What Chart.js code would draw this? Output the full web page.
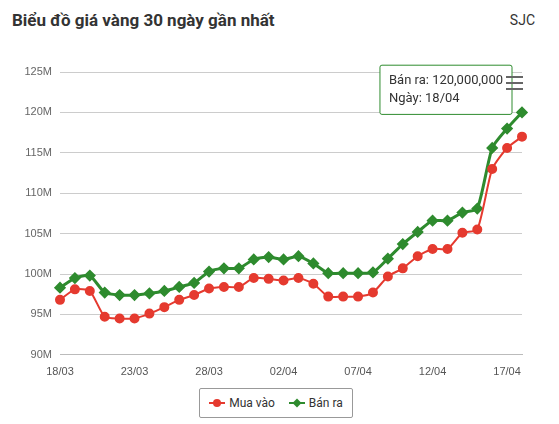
<!DOCTYPE html>
<html><head><meta charset="utf-8">
<script src="https://cdn.jsdelivr.net/npm/chart.js@4/dist/chart.umd.min.js"></script>
<style>
body{margin:0;width:559px;height:424px;background:#fff;font-family:Roboto,"Noto Sans",sans-serif;position:relative;overflow:hidden}
#title{position:absolute;left:12px;top:10px;font-size:17px;font-weight:bold;color:#333}
#sjc{position:absolute;right:24px;top:12px;font-size:14px;color:#333}
#wrap{position:absolute;left:0;top:40px;width:559px;height:342px}
#menu{position:absolute;left:506px;top:76px;width:17px}
#menu div{height:2px;background:#666;margin-bottom:4px}
#legend{position:absolute;left:199px;top:388px;width:152px;height:28px;border:1px solid #999;border-radius:2px;font-size:12px;color:#333;display:flex;align-items:center;justify-content:center;gap:14px}
.it{display:flex;align-items:center;gap:4px}
.ln{width:16px;height:2px;position:relative}
.ln i{position:absolute;left:4px;top:-3px;width:8px;height:8px}
</style></head><body>
<div id="title">Biểu đồ giá vàng 30 ngày gần nhất</div>
<div id="sjc">SJC</div>
<div id="wrap"><canvas id="c"></canvas></div>
<div id="menu"><div></div><div></div><div></div></div>
<div id="legend">
 <div class="it"><span class="ln" style="background:#e53a2f"><i style="background:#e53a2f;border-radius:50%"></i></span>Mua vào</div>
 <div class="it"><span class="ln" style="background:#2e8b2e"><i style="background:#2e8b2e;transform:rotate(45deg) scale(.8)"></i></span>Bán ra</div>
</div>
<script>
const labels = ['18/03','19/03','20/03','21/03','22/03','23/03','24/03','25/03','26/03','27/03','28/03','29/03','30/03','31/03',
  '01/04','02/04','03/04','04/04','05/04','06/04','07/04','08/04','09/04','10/04','11/04','12/04','13/04','14/04','15/04','16/04','17/04','18/04'];
const muaVao = [96.8,98.1,97.9,94.7,94.5,94.5,95.1,95.9,96.8,97.4,98.2,98.4,98.4,99.5,99.4,99.2,99.5,
  98.8,97.2,97.2,97.2,97.7,99.7,100.7,102.2,103.1,103.1,105.1,105.5,113.0,115.6,117.0].map(v => v * 1e6);
const banRa = [98.3,99.5,99.8,97.7,97.4,97.4,97.6,97.9,98.4,98.9,100.3,100.7,100.7,101.8,102.1,101.8,102.2,
  101.3,100.1,100.1,100.1,100.2,101.9,103.7,105.2,106.6,106.6,107.6,108.1,115.6,118.0,120.0].map(v => v * 1e6);
const yTicks = [90,95,100,105,110,115,120,125];

// tooltip sits up-left of the hovered point, like the original
Chart.Tooltip.positioners.upLeft = function (items) {
  if (!items.length) return false;
  const el = items[0].element;
  return { x: el.x - 12, y: el.y + 4 };
};

const chart = new Chart(document.getElementById('c'), {
  type: 'line',
  data: {
    labels,
    datasets: [
      { label: 'Mua vào', data: muaVao, borderColor: '#e53a2f', backgroundColor: '#e53a2f', borderWidth: 2,
        pointRadius: 4, pointHoverRadius: 4, tension: 0.2 },
      { label: 'Bán ra', data: banRa, borderColor: '#2e8b2e', backgroundColor: '#2e8b2e', borderWidth: 3,
        pointStyle: 'rectRot', pointRadius: 4, pointHoverRadius: 5, tension: 0.2 }
    ]
  },
  options: {
    responsive: true, maintainAspectRatio: false, animation: false,
    layout: { padding: { top: 32, right: 37, left: 0 } },
    interaction: { mode: 'nearest', intersect: true },
    plugins: {
      legend: { display: false },
      tooltip: {
        position: 'upLeft',
        backgroundColor: '#fff', borderColor: '#2e8b2e', borderWidth: 1, cornerRadius: 2,
        titleColor: '#333', bodyColor: '#333', displayColors: false, caretSize: 0,
        xAlign: 'right', yAlign: 'bottom', padding: { x: 9, y: 8 },
        titleFont: { size: 12, family: 'Roboto' }, bodyFont: { size: 13, family: 'Roboto' },
        callbacks: {
          title: () => '',
          label: ctx => ['Bán ra: ' + ctx.parsed.y.toLocaleString('en-US'), 'Ngày: ' + ctx.label]
        }
      }
    },
    scales: {
      x: {
        grid: { display: false, drawTicks: true },
        border: { color: '#bbb' },
        ticks: { color: '#555', font: { size: 11 }, maxRotation: 0, autoSkip: false,
          callback: (v, i) => i % 5 === 0 ? labels[i] : '' }
      },
      y: {
        min: 90e6, max: 125e6,
        afterFit: s => { s.width = 60; },
        afterBuildTicks: s => { s.ticks = yTicks.map(v => ({ value: v * 1e6 })); },
        grid: { color: '#ccc', drawTicks: false },
        border: { display: false },
        ticks: { color: '#666', font: { size: 11 }, padding: 8, callback: v => (v / 1e6) + 'M' }
      }
    }
  }
});
const last = labels.length - 1;
const pt = chart.getDatasetMeta(1).data[last];
chart.tooltip.setActiveElements([{ datasetIndex: 1, index: last }], { x: pt.x, y: pt.y });
chart.update();
</script>
</body></html>
